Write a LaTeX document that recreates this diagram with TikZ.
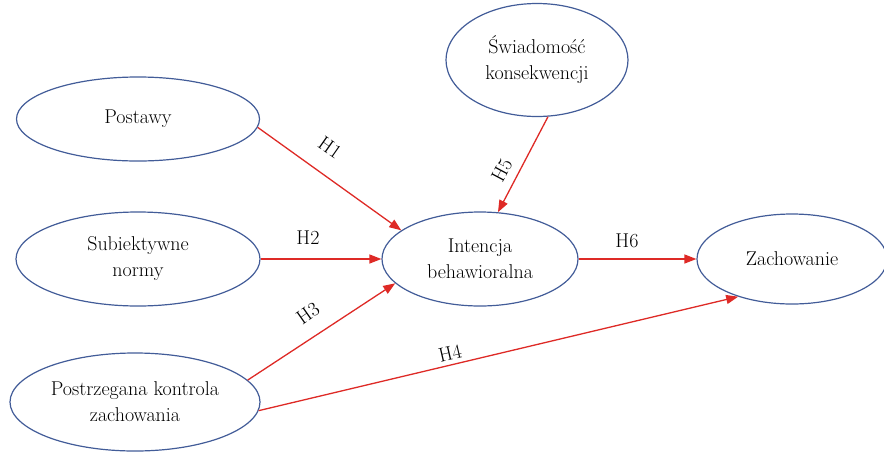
\documentclass[tikz,border=0pt]{standalone}
\usetikzlibrary{arrows.meta,shapes.geometric}
\definecolor{ellblue}{RGB}{66,92,152}
\definecolor{arrred}{RGB}{222,42,38}
\begin{document}
\begin{tikzpicture}[x=1pt,y=-1pt,
  construct/.style={draw=ellblue,line width=1.2pt,ellipse,inner sep=0pt,align=center,
    font=\fontsize{20}{26}\selectfont},
  hyp/.style={draw=arrred,line width=1.3pt,-{Triangle[length=12pt,width=9pt]}},
  hlabel/.style={font=\fontsize{20}{22}\selectfont,inner sep=0pt}]
\useasboundingbox (0,0) rectangle (884,451);
\node[construct,minimum width=243pt,minimum height=84pt] (post) at (138,119) {Postawy};
\node[construct,minimum width=244pt,minimum height=94pt] (subj) at (138,259) {Subiektywne\\normy};
\node[construct,minimum width=250pt,minimum height=98pt] (pkz) at (135,402) {Postrzegana kontrola\\zachowania};
\node[construct,minimum width=196pt,minimum height=94pt] (int) at (480,259) {Intencja\\behawioralna};
\node[construct,minimum width=182pt,minimum height=113pt] (swi) at (537,60) {Świadomość\\konsekwencji};
\node[construct,minimum width=190pt,minimum height=90pt] (zach) at (792,259) {Zachowanie};
\draw[hyp] (post.-4) -- (int.160);
\draw[hyp] (subj.east) -- (int.west);
\draw[hyp] (pkz.11) -- (int.196);
\draw[hyp] (pkz.-4.5) -- (zach.215);
\draw[hyp] (swi.-79) -- (int.69);
\draw[hyp] (int.east) -- (zach.west);
\node[hlabel,rotate=-35] (h1) at (330,148) {H1};
\node[hlabel] (h2) at (308,238) {H2};
\node[hlabel,rotate=35] (h3) at (308,313) {H3};
\node[hlabel,rotate=13] (h4) at (450,353) {H4};
\node[hlabel,rotate=62] (h5) at (502,170) {H5};
\node[hlabel] (h6) at (627,241) {H6};
\end{tikzpicture}
\end{document}
